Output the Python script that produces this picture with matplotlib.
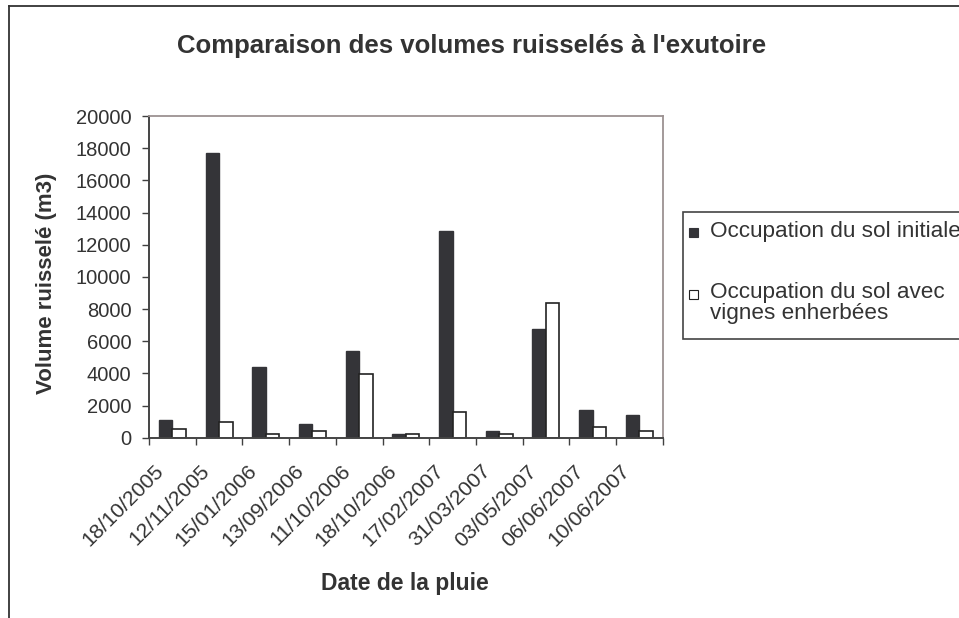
import matplotlib
matplotlib.use("Agg")
import matplotlib.pyplot as plt
import matplotlib.patches as mpatches
import matplotlib.transforms as mtransforms
from matplotlib.lines import Line2D
import numpy as np

plt.rcParams['font.family'] = ['Liberation Sans', 'DejaVu Sans']

dates = ["18/10/2005", "12/11/2005", "15/01/2006", "13/09/2006", "11/10/2006",
         "18/10/2006", "17/02/2007", "31/03/2007", "03/05/2007", "06/06/2007",
         "10/06/2007"]
initiale = [1080, 17700, 4410, 870, 5370, 230, 12850, 440, 6760, 1720, 1410]
enherbee = [540, 950, 210, 420, 3960, 210, 1600, 210, 8350, 640, 430]
yticks = [0, 2000, 4000, 6000, 8000, 10000, 12000, 14000, 16000, 18000, 20000]

W, H = 959, 618
txt = '#333333'
dark = '#343438'

fig = plt.figure(figsize=(W / 100, H / 100), dpi=100)

# outer chart border (cut at right and bottom)
fig.add_artist(Line2D([9 / W, 9 / W], [0, 1 - 6 / H], color='#333333', lw=1.3))
fig.add_artist(Line2D([9 / W, 1], [1 - 6 / H, 1 - 6 / H], color='#333333', lw=1.3))

ax = fig.add_axes([149 / W, 1 - 437.7 / H, (662.7 - 149) / W, (437.7 - 116) / H])

x = np.arange(len(dates))
w = 0.29
ax.bar(x - w / 2, initiale, w, color=dark, edgecolor=dark, linewidth=1.0)
ax.bar(x + w / 2, enherbee, w, color='white', edgecolor='#222222', linewidth=1.2)

ax.set_xlim(-0.5, len(dates) - 0.5)
ax.set_ylim(0, 20000)
ax.set_yticks(yticks)
ax.set_yticklabels([str(v) for v in yticks])
ax.tick_params(axis='y', direction='out', length=4.7, width=1, color='#404040',
               pad=8.0, labelsize=14.5, labelcolor=txt)

# ticks between categories, date labels placed a bit left of the centres
ax.set_xticks(np.arange(len(dates) + 1) - 0.5)
ax.set_xticklabels([])
ax.tick_params(axis='x', direction='out', length=5, width=1, color='#404040')
lab_trans = ax.get_xaxis_transform() + mtransforms.ScaledTranslation(
    -0.12, -0.305, fig.dpi_scale_trans)
for i, d in enumerate(dates):
    ax.text(x[i], 0, d, transform=lab_trans, rotation=45, ha='right', va='center',
            rotation_mode='anchor', fontsize=15.3, color=txt, clip_on=False)

for s in ['left', 'bottom']:
    ax.spines[s].set_color('#444444')
    ax.spines[s].set_linewidth(1.4)
for s in ['top', 'right']:
    ax.spines[s].set_color('#9c9292')
    ax.spines[s].set_linewidth(1.3)

fig.text(472 / W, 1 - 53.3 / H, "Comparaison des volumes ruisselés à l'exutoire",
         ha='center', va='baseline', fontsize=18.5, fontweight='bold', color=txt)
fig.text(47 / W, 1 - 283 / H, "Volume ruisselé (m3)", rotation=90,
         ha='center', va='center', fontsize=16, fontweight='bold', color=txt)
fig.text(405 / W, 1 - 590 / H, "Date de la pluie",
         ha='center', va='baseline', fontsize=16.5, fontweight='bold', color=txt)

# legend
fig.add_artist(mpatches.Rectangle((682.5 / W, 1 - 339 / H), 400 / W, 127 / H,
                                  transform=fig.transFigure, facecolor='white',
                                  edgecolor='#444444', linewidth=1.2))
fig.add_artist(mpatches.Rectangle((689 / W, 1 - 237 / H), 9 / W, 9 / H,
                                  transform=fig.transFigure, facecolor=dark,
                                  edgecolor=dark, linewidth=0.8))
fig.add_artist(mpatches.Rectangle((689 / W, 1 - 299 / H), 9 / W, 9 / H,
                                  transform=fig.transFigure, facecolor='white',
                                  edgecolor='#222222', linewidth=0.8))
fig.text(710 / W, 1 - 237 / H, "Occupation du sol initiale", ha='left',
         va='baseline', fontsize=16.2, color=txt)
fig.text(710 / W, 1 - 298 / H, "Occupation du sol avec", ha='left',
         va='baseline', fontsize=16.2, color=txt)
fig.text(710 / W, 1 - 319 / H, "vignes enherbées", ha='left',
         va='baseline', fontsize=16.2, color=txt)

fig.savefig("out.png", dpi=100)
